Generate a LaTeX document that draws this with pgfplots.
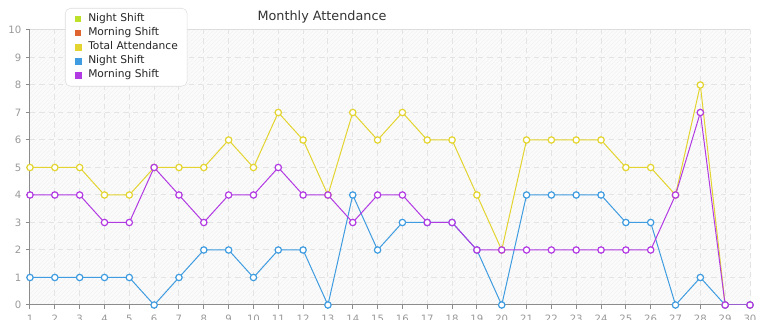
\documentclass[border=0pt]{standalone}
\usepackage{pgfplots}
\pgfplotsset{compat=1.18}
\usepackage{fontspec}
\setmainfont{DejaVu Sans}
\usetikzlibrary{patterns}
\definecolor{cLime}{HTML}{BDE12A}
\definecolor{cOrange}{HTML}{E0642E}
\definecolor{cYellow}{HTML}{E3D430}
\definecolor{cBlue}{HTML}{3F9CE0}
\definecolor{cPurple}{HTML}{B23AE3}
\definecolor{cTick}{HTML}{999999}
\definecolor{cGrid}{HTML}{E4E4E4}
\definecolor{cAxis}{HTML}{8C8C8C}
\definecolor{cBorder}{HTML}{DDDDDD}
\begin{document}
\begin{tikzpicture}
\pgfplotstableread{
day total night morning
1 5 1 4
2 5 1 4
3 5 1 4
4 4 1 3
5 4 1 3
6 5 0 5
7 5 1 4
8 5 2 3
9 6 2 4
10 5 1 4
11 7 2 5
12 6 2 4
13 4 0 4
14 7 4 3
15 6 2 4
16 7 3 4
17 6 3 3
18 6 3 3
19 4 2 2
20 2 0 2
21 6 4 2
22 6 4 2
23 6 4 2
24 6 4 2
25 5 3 2
26 5 3 2
27 4 0 4
28 8 1 7
29 0 0 0
30 0 0 0
}\datatable
\begin{axis}[
  at={(22.5pt,11.25pt)}, anchor=south west,
  scale only axis, width=540pt, height=206.25pt,
  xmin=1, xmax=30, ymin=0, ymax=10,
  xtick={1,...,30}, ytick={0,...,10},
  axis lines*=left,
  axis line style={draw=cAxis, line width=0.75pt, -},
  tick align=outside, major tick length=3pt,
  tick style={draw=cAxis, line width=0.75pt},
  tick label style={font=\fontsize{7.6pt}{9pt}\selectfont, text=cTick},
  /pgf/number format/assume math mode=true,
  xticklabel style={yshift=-1pt},
  grid=major,
  major grid style={draw=cGrid, line width=0.75pt, dash pattern=on 4pt off 3pt},
  axis background/.style={fill=white!98.5!black, postaction={pattern=north east lines, pattern color=black!5}},
  legend style={at={(0.0486,1.08)}, anchor=north west,
    draw=cBorder, fill=white, rounded corners=4pt,
    font=\fontsize{8pt}{9.5pt}\selectfont, text=black!85,
    inner xsep=7pt, inner ysep=3pt, row sep=0pt, column sep=0pt,
    nodes={inner xsep=0pt, inner ysep=1.25pt, text height=6pt, text depth=2pt}},
  legend cell align=left,
]
\draw[cBorder, line width=0.75pt] (rel axis cs:0,1) -- (rel axis cs:1,1) -- (rel axis cs:1,0);
\addlegendimage{draw=none, fill=cLime, legend image code/.code={\fill[cLime, sharp corners] (0pt,-2.25pt) rectangle (4.5pt,2.25pt); \path (9.5pt,0pt);}}
\addlegendentry{Night Shift}
\addlegendimage{draw=none, fill=cOrange, legend image code/.code={\fill[cOrange, sharp corners] (0pt,-2.25pt) rectangle (4.5pt,2.25pt); \path (9.5pt,0pt);}}
\addlegendentry{Morning Shift}
\addplot[cYellow, line width=0.75pt, mark=*, mark size=2.4pt, mark options={fill=white, line width=0.9pt},
  legend image code/.code={\fill[cYellow, sharp corners] (0pt,-2.25pt) rectangle (4.5pt,2.25pt); \path (9.5pt,0pt);}]
  table[x=day, y=total] {\datatable};
\addlegendentry{Total Attendance}
\addplot[cBlue, line width=0.75pt, mark=*, mark size=2.4pt, mark options={fill=white, line width=0.9pt},
  legend image code/.code={\fill[cBlue, sharp corners] (0pt,-2.25pt) rectangle (4.5pt,2.25pt); \path (9.5pt,0pt);}]
  table[x=day, y=night] {\datatable};
\addlegendentry{Night Shift}
\addplot[cPurple, line width=0.75pt, mark=*, mark size=2.4pt, mark options={fill=white, line width=0.9pt},
  legend image code/.code={\fill[cPurple, sharp corners] (0pt,-2.25pt) rectangle (4.5pt,2.25pt); \path (9.5pt,0pt);}]
  table[x=day, y=morning] {\datatable};
\addlegendentry{Morning Shift}
\end{axis}
\node[font=\fontsize{9.6pt}{11pt}\selectfont, text=black!80] at (241.5pt,227.25pt) {Monthly Attendance};
\pgfresetboundingbox
\path[use as bounding box] (0,0) rectangle (573.75pt,240pt);
\end{tikzpicture}
\end{document}
